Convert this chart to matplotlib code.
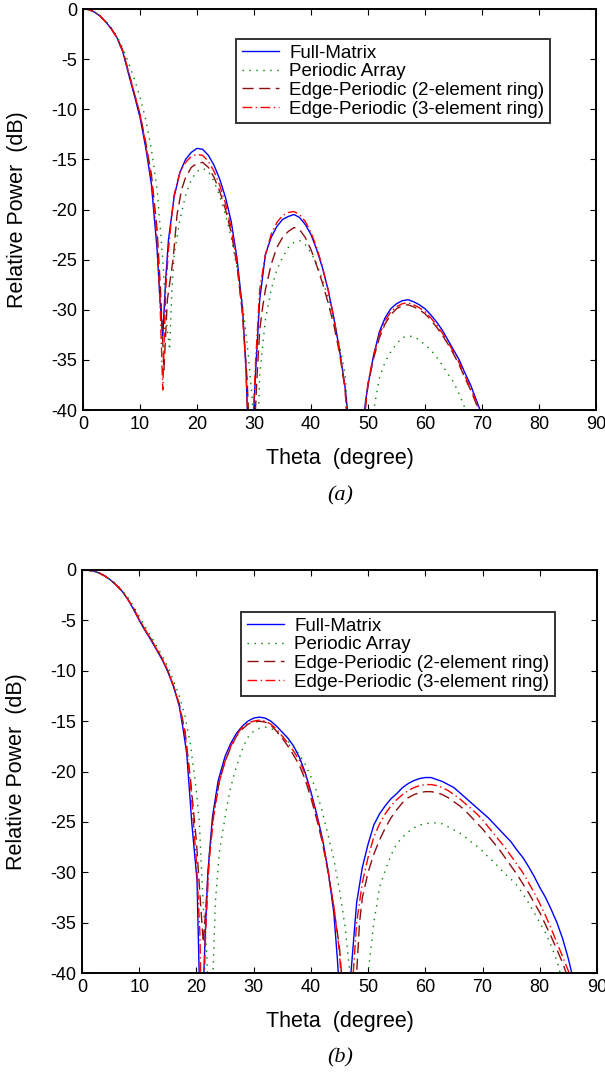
import matplotlib
matplotlib.use('Agg')
import matplotlib.pyplot as plt

plt.rcParams['font.family'] = ['Liberation Sans', 'DejaVu Sans']
plt.rcParams['axes.unicode_minus'] = False

# ---- panel (a) ----
a_full_th = [0, 1, 2, 3, 4, 5, 6, 7, 8, 9, 10, 11, 12, 13, 13.5, 14, 14.5, 15, 16, 17, 18, 19, 20, 21, 22, 23, 24, 25, 26, 27, 28, 28.6, 29.3, 30.3, 31, 32, 33, 34, 35, 36, 37, 38, 39, 40, 41, 42, 43, 44, 45, 46, 47.8, 49.6, 50, 51, 52, 53, 54, 55, 56, 57, 58, 59, 60, 61, 62, 63, 64, 65, 66, 67, 68, 69, 70]
a_full_db = [0, -0.05, -0.3, -0.7, -1.3, -2.0, -2.9, -4.3, -6.5, -8.6, -10.8, -13.8, -17.5, -24, -29, -32.6, -27, -23, -18.7, -16.3, -15, -14.3, -13.9, -14, -14.6, -15.6, -17, -18.8, -21.2, -24.8, -30, -36, -48, -36, -29, -24.5, -22.8, -21.7, -21, -20.7, -20.5, -20.8, -21.5, -22.5, -24, -25.8, -28, -30.8, -34, -37.8, -48, -39, -37.5, -34.5, -32.2, -30.8, -29.9, -29.4, -29.1, -29.0, -29.2, -29.5, -29.9, -30.5, -31.2, -32, -33, -34, -35, -36.3, -37.5, -39, -40.5]

a_per_th = [0, 1, 2, 3, 4, 5, 6, 7, 8, 9, 10, 11, 12, 13, 14, 14.6, 15.2, 15.6, 16, 17, 18, 19, 20, 21, 22, 23, 24, 25, 26, 27, 28, 29, 29.7, 30.3, 31, 32, 33, 34, 35, 36, 37, 38, 39, 40, 41, 42, 43, 44, 45, 46, 47.2, 51, 51.5, 52, 53, 54, 55, 56, 57, 58, 59, 60, 61, 62, 63, 64, 65, 66, 67, 68]
a_per_db = [0, -0.05, -0.3, -0.7, -1.2, -1.9, -2.8, -3.9, -5.4, -7.0, -8.8, -11.0, -14, -18, -25, -31, -34, -28, -24.5, -21, -18.6, -17, -16.2, -15.9, -16.2, -17.2, -18.7, -20.5, -22.8, -25.8, -29.5, -34.5, -39, -48, -36.5, -31, -28, -26, -24.8, -23.8, -23.3, -23.1, -23.5, -24.3, -25.4, -27, -28.8, -31, -33.5, -36.5, -48, -40, -38.4, -36.8, -35.2, -34.2, -33.4, -32.8, -32.6, -32.7, -33, -33.5, -34, -34.7, -35.5, -36.4, -37.2, -38.4, -39.8, -41.5]

a_ep2_th = [0, 1, 2, 3, 4, 5, 6, 7, 8, 9, 10, 11, 12, 13, 13.6, 14.2, 14.8, 15.3, 15.8, 16.5, 17.3, 18, 19, 20, 21, 22, 23, 24, 25, 26, 27, 28, 28.8, 29.6, 30.5, 31, 31.5, 32, 33, 34, 35, 36, 37, 38, 39, 40, 41, 42, 43, 44, 45, 46, 47, 49.5, 50, 51, 52, 53, 54, 55, 56, 57, 58, 59, 60, 61, 62, 63, 64, 65, 66, 67, 68, 69, 70]
a_ep2_db = [0, -0.05, -0.3, -0.7, -1.3, -2.0, -2.9, -4.2, -6.3, -8.4, -10.5, -13.3, -16.5, -22, -28, -36, -29, -27, -25, -20.5, -18, -16.8, -15.8, -15.4, -15.3, -15.8, -16.8, -18.2, -20, -22.3, -25.5, -30.5, -37, -48, -37, -32, -29.8, -28, -25.5, -23.8, -22.8, -22.2, -21.8, -22, -22.8, -24, -25.6, -27.3, -29.3, -31.5, -34.3, -38, -48, -40, -37.5, -34.8, -32.8, -31.4, -30.5, -29.9, -29.6, -29.5, -29.7, -30, -30.4, -31, -31.7, -32.5, -33.4, -34.4, -35.5, -36.8, -38, -39.4, -40.8]

a_ep3_th = [0, 1, 2, 3, 4, 5, 6, 7, 8, 9, 10, 11, 12, 13, 13.5, 14, 14.5, 15, 15.5, 16, 17, 18, 19, 20, 21, 22, 23, 24, 25, 26, 27, 28, 28.6, 29.3, 30.3, 31, 32, 33, 34, 35, 36, 37, 38, 39, 40, 41, 42, 43, 44, 45, 46, 47, 49.5, 50, 51, 52, 53, 54, 55, 56, 57, 58, 59, 60, 61, 62, 63, 64, 65, 66, 67, 68, 69, 70]
a_ep3_db = [0, -0.05, -0.3, -0.7, -1.3, -2.0, -2.9, -4.2, -6.3, -8.4, -10.5, -13.5, -17, -23, -29, -38, -28, -24, -21, -18.5, -16.3, -15.3, -14.7, -14.5, -14.6, -15.2, -16.2, -17.6, -19.4, -21.8, -25.2, -30.5, -36, -48, -35, -28, -24.5, -22.5, -21.3, -20.6, -20.3, -20.2, -20.5, -21.2, -22.3, -23.8, -25.7, -28, -30.8, -34, -38, -48, -40, -37.3, -34.5, -32.5, -31.1, -30.2, -29.7, -29.4, -29.3, -29.5, -29.8, -30.2, -30.8, -31.5, -32.3, -33.2, -34.2, -35.3, -36.6, -37.8, -39.2, -40.6]

# ---- panel (b) ----
b_full_th = [0, 1, 2, 3, 4, 5, 6, 7, 8, 9, 10, 11, 12, 13, 14, 15, 16, 17, 17.7, 18.3, 19.2, 20.1, 20.8, 21.5, 22, 22.8, 23.8, 25, 26, 27, 28, 29, 30, 31, 32, 33, 34, 35, 36, 37, 38, 39, 40, 41, 42, 43, 44, 44.6, 46, 47, 48, 49, 50, 51, 52, 53, 54, 55, 56, 57, 58, 59, 60, 61, 62, 63, 64, 65, 66, 67, 68, 69, 70, 71, 72, 73, 74, 75, 76, 77, 78, 79, 80, 81, 82, 83, 84, 85, 85.8]
b_full_db = [0, -0.02, -0.1, -0.3, -0.6, -1.0, -1.5, -2.1, -2.9, -3.9, -5.0, -6.0, -6.9, -7.9, -8.9, -10.1, -11.6, -13.5, -15.9, -18.2, -25.2, -30.8, -48, -36.7, -30, -24.5, -20.9, -18.5, -17.2, -16.2, -15.5, -15, -14.7, -14.6, -14.7, -15, -15.5, -16.1, -16.7, -17.5, -18.6, -20.1, -22, -24.2, -26.6, -29.8, -34, -38.4, -50, -40, -33, -29.5, -27.2, -25.3, -24.2, -23.4, -22.7, -22.2, -21.6, -21.2, -20.9, -20.7, -20.6, -20.6, -20.8, -21, -21.3, -21.6, -22.1, -22.6, -23.1, -23.6, -24.1, -24.6, -25.2, -25.8, -26.4, -27.0, -27.8, -28.5, -29.4, -30.4, -31.5, -32.5, -33.7, -35.0, -36.6, -38.6, -40.5]

b_per_th = [0, 1, 2, 3, 4, 5, 6, 7, 8, 9, 10, 11, 12, 13, 14, 15, 16, 17, 18, 19, 20, 20.5, 21.2, 21.8, 22.4, 22.9, 23.3, 24, 25.3, 26, 27, 28.2, 29, 30, 31, 32, 33, 34, 35, 36, 37, 38, 39, 40, 41, 42, 43, 44, 45, 46, 47, 48.3, 49.5, 50, 51, 52, 53, 54, 55, 56, 57, 58, 59, 60, 61, 62, 63, 64, 65, 66, 67, 68, 69, 70, 71, 72, 73, 74, 75, 76, 77, 78, 79, 80, 81, 82, 83, 83.8]
b_per_db = [0, -0.02, -0.1, -0.3, -0.6, -0.95, -1.4, -2.0, -2.7, -3.6, -4.6, -5.6, -6.5, -7.5, -8.5, -9.6, -11, -12.5, -14.5, -17.5, -22, -25, -33.5, -38, -48, -40, -33, -28, -23.5, -21.5, -19.5, -17.5, -16.6, -16, -15.7, -15.6, -15.7, -16.1, -16.5, -17.0, -17.6, -18.3, -19.3, -20.5, -22, -24, -26.3, -28.7, -31.8, -35.5, -41, -48, -43, -40, -35, -31.5, -29.8, -28.3, -27.2, -26.5, -26, -25.6, -25.3, -25.2, -25.1, -25.1, -25.2, -25.5, -25.8, -26.1, -26.5, -27, -27.4, -27.9, -28.5, -29, -29.6, -30.2, -30.7, -31.3, -32.1, -33, -34, -35, -36, -37.3, -38.8, -40.5]

b_ep2_th = [0, 1, 2, 3, 4, 5, 6, 7, 8, 9, 10, 11, 12, 13, 14, 15, 16, 17, 18, 19, 20, 20.7, 21.2, 21.7, 22.3, 23, 24, 25, 26, 27, 28, 29, 30, 31, 32, 33, 34, 35, 36, 37, 38, 39, 40, 41, 42, 43, 44, 45, 46.7, 48, 48.5, 49, 50, 51, 52, 53, 54, 55, 56, 57, 58, 59, 60, 61, 62, 63, 64, 65, 66, 67, 68, 69, 70, 71, 72, 73, 74, 75, 76, 77, 78, 79, 80, 81, 82, 83, 84, 85]
b_ep2_db = [0, -0.02, -0.1, -0.3, -0.6, -1.0, -1.5, -2.1, -2.9, -3.8, -4.9, -5.9, -6.8, -7.8, -8.8, -10, -11.5, -13.3, -16, -21, -27, -33, -37, -33, -28, -24, -21, -19, -17.6, -16.5, -15.8, -15.3, -15.1, -15.0, -15.1, -15.4, -16, -16.7, -17.5, -18.4, -19.4, -20.8, -22.6, -24.7, -27, -30, -33.5, -37.5, -50, -40, -35, -32.5, -30, -28.2, -26.8, -25.6, -24.6, -23.8, -23.1, -22.6, -22.3, -22.1, -22.0, -22.0, -22.1, -22.3, -22.6, -23, -23.4, -23.9, -24.5, -25.1, -25.7, -26.4, -27.1, -27.8, -28.6, -29.4, -30.2, -31.1, -32, -33, -34, -35.2, -36.4, -37.7, -39, -40.6]

b_ep3_th = [0, 1, 2, 3, 4, 5, 6, 7, 8, 9, 10, 11, 12, 13, 14, 15, 16, 17, 18, 19, 20, 20.6, 21, 21.6, 22.2, 23, 24, 25, 26, 27, 28, 29, 30, 31, 32, 33, 34, 35, 36, 37, 38, 39, 40, 41, 42, 43, 44, 45, 46.3, 47.4, 48, 49, 50, 51, 52, 53, 54, 55, 56, 57, 58, 59, 60, 61, 62, 63, 64, 65, 66, 67, 68, 69, 70, 71, 72, 73, 74, 75, 76, 77, 78, 79, 80, 81, 82, 83, 84, 85, 85.5]
b_ep3_db = [0, -0.02, -0.1, -0.3, -0.6, -1.0, -1.5, -2.1, -2.9, -3.8, -4.9, -5.9, -6.8, -7.8, -8.8, -10, -11.5, -13.4, -16.2, -21.5, -29, -36, -48, -36, -29, -24.5, -21, -19, -17.5, -16.4, -15.6, -15.2, -15, -14.9, -15, -15.3, -15.8, -16.5, -17.2, -18, -18.9, -20.3, -22.2, -24.4, -26.8, -29.8, -33.3, -38, -50, -40, -35, -31, -28.5, -26.5, -25.2, -24.2, -23.4, -22.8, -22.3, -21.9, -21.6, -21.4, -21.3, -21.3, -21.4, -21.6, -21.9, -22.3, -22.7, -23.2, -23.7, -24.2, -24.8, -25.5, -26.2, -26.9, -27.6, -28.4, -29.2, -30, -31, -32, -33.1, -34.3, -35.6, -37, -38.4, -39.8, -40.8]

labels = ['Full-Matrix', 'Periodic Array', 'Edge-Periodic (2-element ring)', 'Edge-Periodic (3-element ring)']
colors = ['#0000ff', '#008000', '#8b1010', '#ff0000']
styles = ['-', (0, (1, 4)), (0, (8, 4)), (0, (7, 2.5, 1, 2.5))]

fig = plt.figure(figsize=(6.05, 10.76), dpi=100)
ax_a = fig.add_axes([83 / 605, 1 - 410 / 1076, 513 / 605, 401 / 1076])
ax_b = fig.add_axes([82 / 605, 1 - 973 / 1076, 515 / 605, 403 / 1076])

panels = [
    (ax_a, [(a_full_th, a_full_db), (a_per_th, a_per_db), (a_ep2_th, a_ep2_db), (a_ep3_th, a_ep3_db)], (236, 39), '(a)', 496),
    (ax_b, [(b_full_th, b_full_db), (b_per_th, b_per_db), (b_ep2_th, b_ep2_db), (b_ep3_th, b_ep3_db)], (241, 612), '(b)', 1058),
]

for ax, series, leg_xy, tag, tag_y in panels:
    for (th, db), lab, c, ls in zip(series, labels, colors, styles):
        ax.plot(th, db, color=c, linestyle=ls, linewidth=1.0, label=lab)
    ax.set_xlim(0, 90)
    ax.set_ylim(-40, 0)
    ax.set_xticks(range(0, 91, 10))
    ax.set_yticks(range(-40, 1, 5))
    ax.tick_params(direction='in', top=True, right=True, length=4, labelsize=13, pad=4)
    for sp in ax.spines.values():
        sp.set_linewidth(1.4)
    ax.set_xlabel('Theta  (degree)', fontsize=15.5, va='center')
    ax.xaxis.set_label_coords(0.5, -48 / ax.bbox.height * fig.dpi / 100)
    ax.set_ylabel('Relative Power  (dB)', fontsize=15.5, va='center')
    ax.yaxis.set_label_coords(-65 / 513, 0.5)
    leg = ax.legend(loc='upper left', bbox_to_anchor=(leg_xy[0] / 605, 1 - leg_xy[1] / 1076),
                    bbox_transform=fig.transFigure, fontsize=13.5, frameon=True, fancybox=False,
                    borderaxespad=0, borderpad=0.3, labelspacing=0.08, handlelength=2.0,
                    handletextpad=0.55)
    leg.get_frame().set_edgecolor('black')
    leg.get_frame().set_linewidth(1.4)
    fig.text(340 / 605, 1 - tag_y / 1076, tag, fontsize=16, family='Liberation Serif',
             style='italic', ha='center', va='center')

fig.savefig('out.png', dpi=100)
